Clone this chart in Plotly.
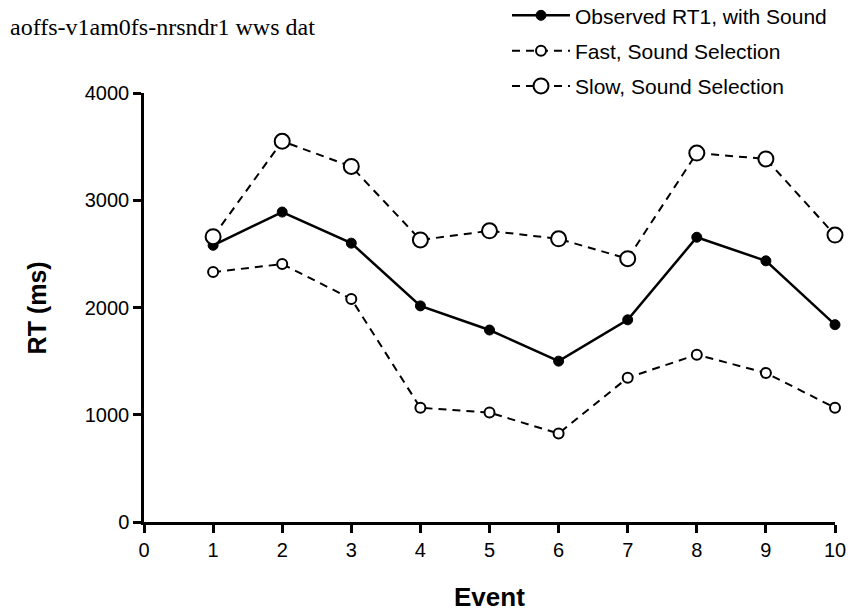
import plotly.graph_objects as go

events = [1, 2, 3, 4, 5, 6, 7, 8, 9, 10]
observed = [2580, 2890, 2600, 2015, 1790, 1500, 1885, 2655, 2435, 1840]
fast = [2330, 2405, 2080, 1065, 1020, 825, 1345, 1560, 1390, 1065]
slow = [2660, 3550, 3315, 2630, 2715, 2640, 2455, 3440, 3385, 2675]

x_ticks = [0, 1, 2, 3, 4, 5, 6, 7, 8, 9, 10]
y_ticks = [0, 1000, 2000, 3000, 4000]

fig = go.Figure()
fig.add_trace(go.Scatter(
    x=events, y=observed, mode="lines+markers", name="Observed RT1, with Sound",
    legendgroup="a",
    line=dict(color="black", width=2.5),
    marker=dict(symbol="circle", size=10, color="black", line=dict(color="black", width=1)),
    cliponaxis=False,
))
fig.add_trace(go.Scatter(
    x=events, y=fast, mode="lines+markers", name="Fast, Sound Selection",
    legendgroup="b",
    line=dict(color="black", width=2, dash="8px,6px"),
    marker=dict(symbol="circle", size=10, color="white", line=dict(color="black", width=2)),
    cliponaxis=False,
))
fig.add_trace(go.Scatter(
    x=events, y=slow, mode="lines+markers", name="Slow, Sound Selection",
    legendgroup="c",
    line=dict(color="black", width=2, dash="8px,6px"),
    marker=dict(symbol="circle", size=15, color="white", line=dict(color="black", width=2)),
    cliponaxis=False,
))

axis_common = dict(
    showline=True, linecolor="black", linewidth=2.5,
    ticks="outside", ticklen=8, tickwidth=2.5, tickcolor="black",
    showgrid=False, zeroline=False,
    tickfont=dict(family="Liberation Sans, Arial", size=20, color="black"),
)

fig.update_layout(
    width=851, height=615,
    margin=dict(l=144, r=16, t=93, b=93, autoexpand=False),
    paper_bgcolor="white", plot_bgcolor="white",
    showlegend=True,
    legend=dict(
        x=(515 - 8) / 851, y=1.228, xref="container", yref="paper", xanchor="left", yanchor="top",
        font=dict(family="Liberation Sans, Arial", size=21, color="black"),
        bgcolor="rgba(0,0,0,0)", tracegroupgap=5, itemwidth=58,
        traceorder="grouped",
    ),
    xaxis=dict(range=[0, 10], tickvals=x_ticks, **axis_common),
    yaxis=dict(range=[0, 4000], tickvals=y_ticks, **axis_common),
)
fig.add_annotation(
    text="aoffs-v1am0fs-nrsndr1 wws dat", x=-0.197, y=1.154, xref="paper", yref="paper",
    xanchor="left", yanchor="middle", showarrow=False,
    font=dict(family="Liberation Serif, Times New Roman", size=24, color="black"),
)
fig.add_annotation(
    text="<b>Event</b>", x=0.5, y=-0.175, xref="paper", yref="paper",
    xanchor="center", yanchor="middle", showarrow=False,
    font=dict(family="Liberation Sans, Arial", size=26, color="black"),
)
fig.add_annotation(
    text="<b>RT (ms)</b>", x=-0.155, y=0.5, xref="paper", yref="paper",
    xanchor="center", yanchor="middle", showarrow=False, textangle=-90,
    font=dict(family="Liberation Sans, Arial", size=25, color="black"),
)

fig.write_html("out.html")
